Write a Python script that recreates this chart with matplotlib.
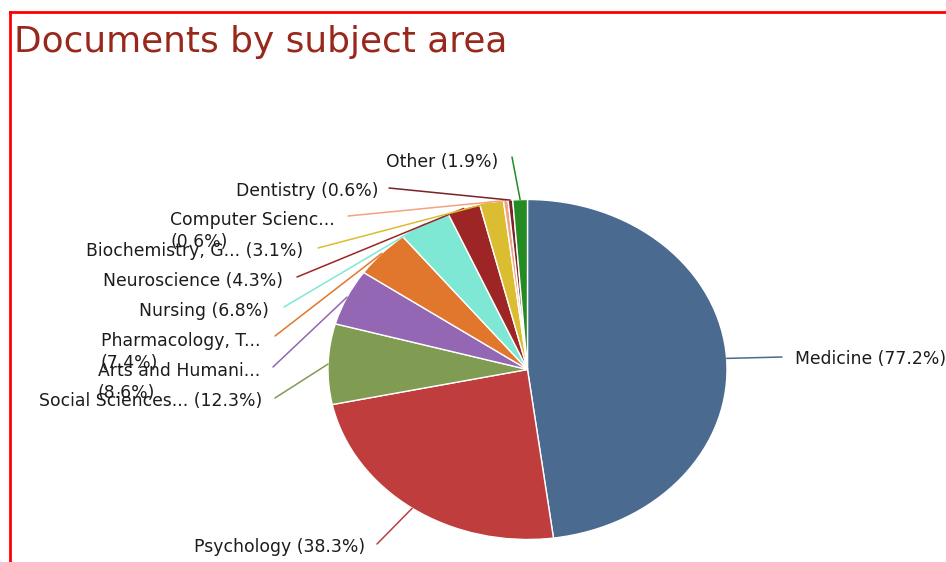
import numpy as np
import matplotlib
matplotlib.use("Agg")
import matplotlib.pyplot as plt
from matplotlib.lines import Line2D

# ---------------- data ----------------
subjects = ["Medicine", "Psychology", "Social Sciences...", "Arts and Humani...",
            "Pharmacology, T...", "Nursing", "Neuroscience", "Biochemistry, G...",
            "Computer Scienc...", "Dentistry", "Other"]
percents = [77.2, 38.3, 12.3, 8.6, 7.4, 6.8, 4.3, 3.1, 0.6, 0.6, 1.9]
colors = ["#4a6a90", "#c03d3e", "#7f9c52", "#9467b4", "#e0772d", "#7ee8d5",
          "#9e2525", "#dbbd31", "#f2a383", "#7a2226", "#238b22"]
# which labels wrap the percentage onto a second line
wrapped = [False, False, False, True, True, False, False, False, True, False, False]

# ---------------- layout (pixels) ----------------
W, H = 946, 562
CX, CY, RX, RY = 527.5, 369.5, 199.5, 170.0
# (line start x, line start y, text x, text y(first line centre), side)
label_pos = [
    (782, 357, 795, 358, "r"),
    (377, 544, 365, 546, "l"),
    (275, 398, 262, 400, "l"),
    (273, 367, 260, 370, "l"),
    (275, 336, 260, 340, "l"),
    (284, 307, 269, 310, "l"),
    (297, 277, 283, 280, "l"),
    (318, 248, 303, 250, "l"),
    (348, 216, 335, 219, "l"),
    (389, 188, 378, 190, "l"),
    (512, 157, 498, 161, "l"),
]
FS = 12.4

fig = plt.figure(figsize=(W / 100, H / 100), dpi=100)

# pie axes (elliptical: aspect auto)
pax = fig.add_axes([(CX - RX) / W, 1 - (CY + RY) / H, 2 * RX / W, 2 * RY / H])
wedges, _ = pax.pie(percents, colors=colors, startangle=90, counterclock=False,
                    radius=1.0, center=(0, 0),
                    wedgeprops=dict(edgecolor="white", linewidth=1.0))
pax.set_aspect("auto")
pax.set_xlim(-1, 1)
pax.set_ylim(-1, 1)
pax.axis("off")

# overlay axes in pixel coordinates
ax = fig.add_axes([0, 0, 1, 1], zorder=5)
ax.set_xlim(0, W)
ax.set_ylim(H, 0)
ax.axis("off")
ax.patch.set_alpha(0)

for i, (w, name, pct) in enumerate(zip(wedges, subjects, percents)):
    mid = np.deg2rad((w.theta1 + w.theta2) / 2)
    ex = CX + RX * np.cos(mid)
    ey = CY - RY * np.sin(mid)
    lx, ly, tx, ty, side = label_pos[i]
    ax.plot([lx, ex], [ly, ey], color=colors[i], lw=1.1,
            solid_capstyle="round")
    sep = "\n" if wrapped[i] else " "
    txt = f"{name}{sep}({pct}%)"
    ax.text(tx, ty - 8, txt, ha="left" if side == "r" else "right",
            va="top", fontsize=FS, color="#1c1c1c", family="DejaVu Sans",
            multialignment="left", linespacing=1.28, clip_on=False)

# title
fig.text(14 / W, 1 - 42 / H, "Documents by subject area", color="#99281c",
         fontsize=25.8, family="DejaVu Sans", ha="left", va="center")

# red border (top and left)
fig.add_artist(Line2D([10 / W, 1], [1 - 12 / H, 1 - 12 / H], color="#ff0000",
                      lw=2, transform=fig.transFigure))
fig.add_artist(Line2D([10 / W, 10 / W], [0, 1 - 12 / H], color="#ff0000",
                      lw=2, transform=fig.transFigure))

fig.savefig("out.png", dpi=100)
